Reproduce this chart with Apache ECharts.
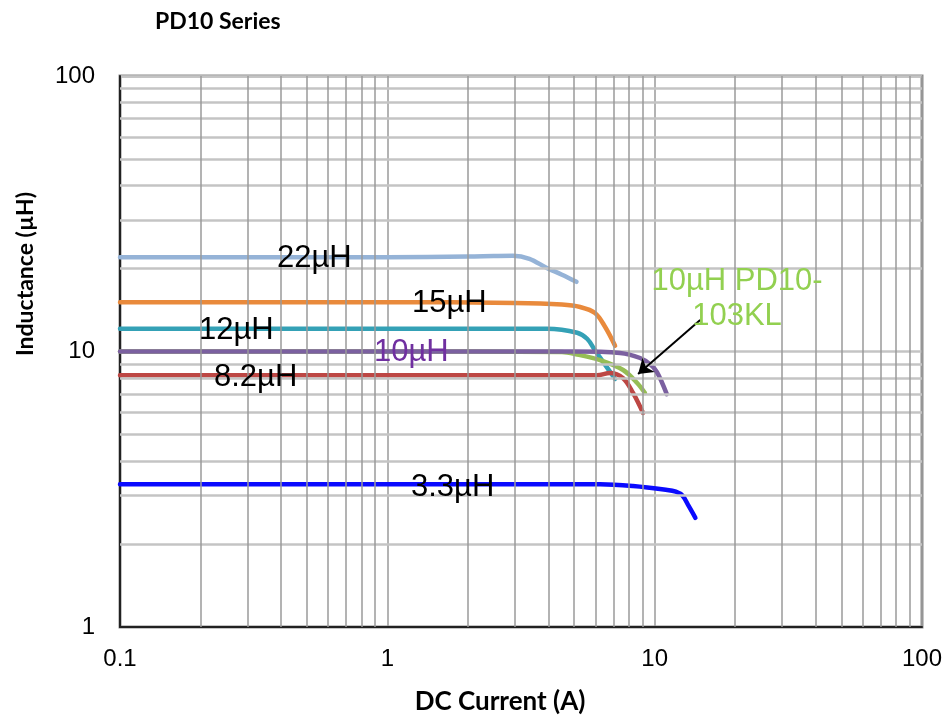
<!DOCTYPE html>
<html>
<head>
<meta charset="utf-8">
<script src="https://cdn.jsdelivr.net/npm/echarts@6/dist/echarts.min.js"></script>
<style>html,body{margin:0;padding:0;background:#fff}#c{width:949px;height:717px}</style>
</head>
<body>
<div id="c"></div>
<script>
// ---- data ----
const xTicks = [0.1, 1, 10, 100];
const yTicks = [1, 10, 100];
const xMinor = [0.2,0.3,0.4,0.5,0.6,0.7,0.8,0.9,2,3,4,5,6,7,8,9,20,30,40,50,60,70,80,90];
const yMinor = [2,3,4,5,6,7,8,9,20,30,40,50,60,70,80,90];

const x22 = [0.1, 0.5, 1, 2, 2.5, 2.95, 3.4, 3.95, 4.5, 5.1];
const y22 = [22, 22, 22, 22.1, 22.2, 22.25, 21.7, 20.1, 19.0, 17.9];

const x15 = [0.1, 1, 3, 4.5, 5.26, 5.98, 6.52, 7.11];
const y15 = [15.1, 15.1, 15.0, 14.8, 14.5, 13.8, 12.3, 10.5];

const x12 = [0.1, 1, 3.95, 5.13, 5.6, 5.98, 6.5, 7.11];
const y12 = [12.1, 12.1, 12.1, 11.7, 11.1, 10.1, 9.0, 7.95];

const x10g = [0.1, 1, 4.5, 5.13, 6.25, 7.62, 8.6, 9.2];
const y10g = [10, 10, 9.95, 9.75, 9.31, 8.57, 7.69, 7.07];

const x10 = [0.1, 1, 5, 7.42, 8.82, 9.6, 10.2, 11.1];
const y10 = [10, 10, 10, 9.88, 9.47, 9.0, 8.42, 7.0];

const x82 = [0.1, 1, 6.09, 6.8, 7.62, 8.3, 9.05];
const y82 = [8.2, 8.2, 8.2, 8.35, 8.0, 7.07, 5.98];

const x33 = [0.1, 1, 6.25, 8.3, 11.0, 12.0, 12.7, 13.4, 14.2];
const y33 = [3.3, 3.3, 3.3, 3.25, 3.15, 3.1, 3.0, 2.75, 2.49];

const arrowFrom = [14.8, 13.0];
const arrowTo = [8.67, 8.28];

const pairs = (xs, ys) => xs.map((x, i) => [x, ys[i]]);

function curve(name, xs, ys, color) {
  return {
    name, type: 'line', data: pairs(xs, ys), smooth: 0.35, symbol: 'none', z: 3,
    lineStyle: { color, width: 4.5, cap: 'round', join: 'round' }, itemStyle: { color }
  };
}

const chart = echarts.init(document.getElementById('c'), null, { renderer: 'canvas' });
const titleFont = 'Lato, "Open Sans", sans-serif';
const arial = '"Liberation Sans", Arial, sans-serif';

chart.setOption({
  animation: false,
  backgroundColor: '#fff',
  grid: { left: 120, right: 27, top: 76, bottom: 90, show: true, borderColor: '#8c8c8c', borderWidth: 3, containLabel: false },
  xAxis: {
    type: 'log', logBase: 10, min: 0.1, max: 100,
    axisLine: { show: true, lineStyle: { color: '#222', width: 2 } },
    axisTick: { show: false },
    axisLabel: { fontFamily: arial, fontSize: 24, color: '#000', margin: 20,
      formatter: v => { const t = xTicks.find(a => Math.abs(a - v) / a < 1e-6); return t === undefined ? '' : String(t); } },
    splitLine: { show: true, lineStyle: { color: '#9a9a9a', width: 1.5 } }
  },
  yAxis: {
    type: 'log', logBase: 10, min: 1, max: 100,
    axisLine: { show: true, lineStyle: { color: '#222', width: 2 } },
    axisTick: { show: false },
    axisLabel: { fontFamily: arial, fontSize: 24, color: '#000', margin: 25,
      formatter: v => { const t = yTicks.find(a => Math.abs(a - v) / a < 1e-6); return t === undefined ? '' : String(t); } },
    splitLine: { show: true, lineStyle: { color: '#c4c4c4', width: 2.5 } }
  },
  series: [
    {
      type: 'line', data: [[0.1, 1]], symbol: 'none', z: 1, silent: true,
      lineStyle: { opacity: 0 },
      markLine: {
        silent: true, symbol: 'none', label: { show: false }, animation: false,
        data: [
          ...yMinor.map(v => ({ yAxis: v, lineStyle: { color: '#c4c4c4', width: 2.5, type: 'solid' } })),
          ...xMinor.map(v => ({ xAxis: v, lineStyle: { color: '#9a9a9a', width: 1.5, type: 'solid' } }))
        ]
      }
    },
    curve('3.3µH', x33, y33, '#0a0aff'),
    curve('22µH', x22, y22, '#95B3D7'),
    curve('15µH', x15, y15, '#E98A3C'),
    curve('12µH', x12, y12, '#34A1B6'),
    curve('10µH PD10-103KL', x10g, y10g, '#96BD55'),
    curve('10µH', x10, y10, '#7B60A0'),
    curve('8.2µH', x82, y82, '#BD4744'),
    {
      type: 'line', data: [[0.1, 1]], symbol: 'none', z: 5, silent: true,
      lineStyle: { opacity: 0 },
      markLine: {
        silent: true, symbol: ['none', 'arrow'], symbolSize: 14, label: { show: false }, animation: false,
        lineStyle: { color: '#000', width: 2, type: 'solid' },
        data: [[{ coord: arrowFrom }, { coord: arrowTo }]]
      }
    }
  ],
  graphic: [
    { type: 'text', left: 155, top: 10, z: 10, style: { text: 'PD10 Series', fontFamily: titleFont, fontWeight: 'bold', fontSize: 23, fill: '#000' } },
    { type: 'text', x: 500, y: 702, z: 10, style: { text: 'DC Current (A)', fontFamily: titleFont, fontWeight: 'bold', fontSize: 26, fill: '#000', align: 'center', verticalAlign: 'middle' } },
    { type: 'text', x: 26, y: 274, rotation: Math.PI / 2, z: 10, style: { text: 'Inductance (µH)', fontFamily: titleFont, fontWeight: 'bold', fontSize: 23, fill: '#000', align: 'center', verticalAlign: 'middle' } },
    { type: 'text', x: 277, y: 258, z: 10, style: { text: '22µH', fontFamily: arial, fontSize: 31, fill: '#000', verticalAlign: 'middle' } },
    { type: 'text', x: 412, y: 303, z: 10, style: { text: '15µH', fontFamily: arial, fontSize: 31, fill: '#000', verticalAlign: 'middle' } },
    { type: 'text', x: 199, y: 330, z: 10, style: { text: '12µH', fontFamily: arial, fontSize: 31, fill: '#000', verticalAlign: 'middle' } },
    { type: 'text', x: 374, y: 352, z: 10, style: { text: '10µH', fontFamily: arial, fontSize: 31, fill: '#7030A0', verticalAlign: 'middle' } },
    { type: 'text', x: 214, y: 377, z: 10, style: { text: '8.2µH', fontFamily: arial, fontSize: 31, fill: '#000', verticalAlign: 'middle' } },
    { type: 'text', x: 411, y: 487, z: 10, style: { text: '3.3µH', fontFamily: arial, fontSize: 31, fill: '#000', verticalAlign: 'middle' } },
    { type: 'text', x: 737, y: 281, z: 10, style: { text: '10µH PD10-', fontFamily: arial, fontSize: 31, fill: '#92D050', align: 'center', verticalAlign: 'middle' } },
    { type: 'text', x: 737, y: 316, z: 10, style: { text: '103KL', fontFamily: arial, fontSize: 31, fill: '#92D050', align: 'center', verticalAlign: 'middle' } }
  ]
});
</script>
</body>
</html>
